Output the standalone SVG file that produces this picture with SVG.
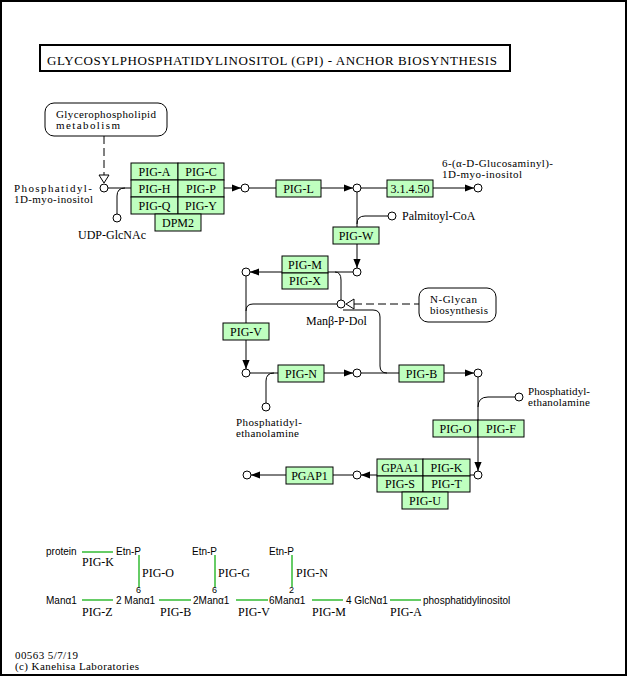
<svg xmlns="http://www.w3.org/2000/svg" width="628" height="677" viewBox="0 0 628 677">
<defs>
<style>
.t{font-family:"Liberation Serif","Times New Roman",serif;font-size:12px;fill:#000}
.m{font-family:"Liberation Serif","Times New Roman",serif;font-size:11px;fill:#000}
.c{text-anchor:middle}
.s{font-family:"Liberation Sans",Arial,sans-serif;font-size:10px;fill:#000}
.d{font-family:"Liberation Sans",Arial,sans-serif;font-size:9px;fill:#000}
.box{fill:#bfffbf;stroke:#000;stroke-width:1}
.cpd{fill:#fff;stroke:#000;stroke-width:1}
.ln{fill:none;stroke:#000;stroke-width:1}
.ds{fill:none;stroke:#000;stroke-width:1;stroke-dasharray:8,4}
.map{fill:#fff;stroke:#000;stroke-width:1}
.g{stroke:#66cc66;stroke-width:2;fill:none}
</style>
<marker id="ar" viewBox="0 0 10 8" refX="10" refY="4" markerWidth="9" markerHeight="8" markerUnits="userSpaceOnUse" orient="auto">
<path d="M0,0 L10,4 L0,8 z" fill="#000"/>
</marker>
</defs>
<rect x="1" y="1" width="625" height="674" fill="#fff" stroke="#000" stroke-width="2"/>

<g id="title">
<rect x="40" y="45" width="470" height="26" fill="#fff" stroke="#000" stroke-width="2"/>
<text class="t" x="47" y="65" style="font-size:13px" textLength="450">GLYCOSYLPHOSPHATIDYLINOSITOL (GPI) - ANCHOR BIOSYNTHESIS</text>
</g>

<g id="connectors">
<path class="ln" d="M108,188 H131"/>
<path class="ln" d="M117,214 V196 Q117,188 125,188"/>
<path class="ln" d="M224,188 H241" marker-end="url(#ar)"/>
<path class="ln" d="M249,188 H276"/>
<path class="ln" d="M321,188 H353" marker-end="url(#ar)"/>
<path class="ln" d="M361,188 H387"/>
<path class="ln" d="M433,188 H474" marker-end="url(#ar)"/>
<path class="ln" d="M357,192 V227"/>
<path class="ln" d="M388,216 H365 Q357,216 357,224"/>
<path class="ln" d="M357,244 V268" marker-end="url(#ar)"/>
<path class="ln" d="M353,272 H250" marker-end="url(#ar)"/>
<path class="ln" d="M335,272 Q341,272 341,280 V300"/>
<path class="ln" d="M337,304 H253 Q246,304 246,311"/>
<path class="ln" d="M246,276 V323"/>
<path class="ln" d="M246,340 V369" marker-end="url(#ar)"/>
<path class="ln" d="M343,310 H373 Q380,310 380,317 V366 Q380,373 387,373"/>
<path class="ln" d="M250,373 H278"/>
<path class="ln" d="M266,403 V381 Q266,373 274,373"/>
<path class="ln" d="M324,373 H353" marker-end="url(#ar)"/>
<path class="ln" d="M361,373 H399"/>
<path class="ln" d="M444,373 H474" marker-end="url(#ar)"/>
<path class="ln" d="M478,377 V471" marker-end="url(#ar)"/>
<path class="ln" d="M515,397 H488 Q478,397 478,407"/>
<path class="ln" d="M474,475 H361" marker-end="url(#ar)"/>
<path class="ln" d="M353,475 H333"/>
<path class="ln" d="M286,475 H251" marker-end="url(#ar)"/>
<path class="ds" d="M104,136 V175"/>
<path d="M99,175 L109,175 L104,183 z" fill="#fff" stroke="#000" stroke-width="1"/>
<path class="ds" d="M354,304 H419"/>
<path d="M354,299 L354,309 L346,304 z" fill="#fff" stroke="#000" stroke-width="1"/>
</g>

<g id="map-glycerophospholipid">
<rect class="map" x="45" y="103" width="122" height="33" rx="9"/>
<text class="m" x="56" y="118" textLength="100">Glycerophospholipid</text>
<text class="m" x="56" y="129" textLength="64">metabolism</text>
</g>
<g id="map-nglycan">
<rect class="map" x="419" y="288" width="77" height="34" rx="9"/>
<text class="m" x="430" y="303" textLength="47">N-Glycan</text>
<text class="m" x="430" y="314" textLength="58">biosynthesis</text>
</g>

<g id="cpd-pi">
<circle class="cpd" cx="104" cy="188" r="4"/>
<text class="m" x="14" y="192" textLength="78">Phosphatidyl-</text>
<text class="m" x="14" y="203" textLength="79">1D-myo-inositol</text>
</g>
<g id="cpd-udp">
<circle class="cpd" cx="117" cy="218" r="4"/>
<text class="t" x="78" y="239">UDP-GlcNAc</text>
</g>
<g id="cpd-glcnac-pi">
<circle class="cpd" cx="245" cy="188" r="4"/>
</g>
<g id="cpd-glcn-pi">
<circle class="cpd" cx="357" cy="188" r="4"/>
</g>
<g id="cpd-glcn-inositol">
<circle class="cpd" cx="478" cy="188" r="4"/>
<text class="m" x="442" y="167" textLength="111">6-(α-D-Glucosaminyl)-</text>
<text class="m" x="442" y="178" textLength="80">1D-myo-inositol</text>
</g>
<g id="cpd-palmitoyl">
<circle class="cpd" cx="392" cy="216" r="4"/>
<text class="t" x="402" y="220">Palmitoyl-CoA</text>
</g>
<g id="cpd-c1"><circle class="cpd" cx="357" cy="272" r="4"/></g>
<g id="cpd-c2"><circle class="cpd" cx="246" cy="272" r="4"/></g>
<g id="cpd-manpdol">
<circle class="cpd" cx="341" cy="304" r="4"/>
<text class="t" x="306" y="325">Manβ-P-Dol</text>
</g>
<g id="cpd-c3"><circle class="cpd" cx="246" cy="373" r="4"/></g>
<g id="cpd-pe1">
<circle class="cpd" cx="266" cy="407" r="4"/>
<text class="m" x="236" y="426" textLength="66">Phosphatidyl-</text>
<text class="m" x="236" y="437" textLength="63">ethanolamine</text>
</g>
<g id="cpd-c4"><circle class="cpd" cx="357" cy="373" r="4"/></g>
<g id="cpd-c5"><circle class="cpd" cx="478" cy="373" r="4"/></g>
<g id="cpd-pe2">
<circle class="cpd" cx="519" cy="397" r="4"/>
<text class="m" x="528" y="395" textLength="62">Phosphatidyl-</text>
<text class="m" x="528" y="406" textLength="62">ethanolamine</text>
</g>
<g id="cpd-c6"><circle class="cpd" cx="478" cy="475" r="4"/></g>
<g id="cpd-c7"><circle class="cpd" cx="357" cy="475" r="4"/></g>
<g id="cpd-c8"><circle class="cpd" cx="247" cy="475" r="4"/></g>

<g id="enz-gpi-gnt">
<rect class="box" x="131" y="163" width="47" height="17"/><text class="t c" x="154.5" y="176">PIG-A</text>
<rect class="box" x="178" y="163" width="46" height="17"/><text class="t c" x="201" y="176">PIG-C</text>
<rect class="box" x="131" y="180" width="47" height="17"/><text class="t c" x="154.5" y="193">PIG-H</text>
<rect class="box" x="178" y="180" width="46" height="17"/><text class="t c" x="201" y="193">PIG-P</text>
<rect class="box" x="131" y="197" width="47" height="17"/><text class="t c" x="154.5" y="210">PIG-Q</text>
<rect class="box" x="178" y="197" width="46" height="17"/><text class="t c" x="201" y="210">PIG-Y</text>
<rect class="box" x="155" y="214" width="46" height="17"/><text class="t c" x="178" y="227">DPM2</text>
</g>
<g id="enz-pigl">
<rect class="box" x="276" y="180" width="45" height="17"/><text class="t c" x="298.5" y="193">PIG-L</text>
</g>
<g id="enz-31450">
<rect class="box" x="387" y="180" width="46" height="17"/><text class="t c" x="410" y="193">3.1.4.50</text>
</g>
<g id="enz-pigw">
<rect class="box" x="333" y="227" width="46" height="17"/><text class="t c" x="356" y="240">PIG-W</text>
</g>
<g id="enz-pigm">
<rect class="box" x="282" y="256" width="46" height="17"/><text class="t c" x="305" y="269">PIG-M</text>
<rect class="box" x="282" y="273" width="46" height="16"/><text class="t c" x="305" y="285">PIG-X</text>
</g>
<g id="enz-pigv">
<rect class="box" x="223" y="323" width="46" height="17"/><text class="t c" x="246" y="336">PIG-V</text>
</g>
<g id="enz-pign">
<rect class="box" x="278" y="365" width="46" height="17"/><text class="t c" x="301" y="378">PIG-N</text>
</g>
<g id="enz-pigb">
<rect class="box" x="399" y="365" width="45" height="17"/><text class="t c" x="421.5" y="378">PIG-B</text>
</g>
<g id="enz-pigo">
<rect class="box" x="433" y="420" width="45" height="17"/><text class="t c" x="455.5" y="433">PIG-O</text>
<rect class="box" x="478" y="420" width="46" height="17"/><text class="t c" x="501" y="433">PIG-F</text>
</g>
<g id="enz-transamidase">
<rect class="box" x="377" y="459" width="46" height="17"/><text class="t c" x="400" y="472">GPAA1</text>
<rect class="box" x="423" y="459" width="47" height="17"/><text class="t c" x="446.5" y="472">PIG-K</text>
<rect class="box" x="377" y="476" width="46" height="16"/><text class="t c" x="400" y="488">PIG-S</text>
<rect class="box" x="423" y="476" width="47" height="16"/><text class="t c" x="446.5" y="488">PIG-T</text>
<rect class="box" x="402" y="492" width="46" height="17"/><text class="t c" x="425" y="505">PIG-U</text>
</g>
<g id="enz-pgap1">
<rect class="box" x="286" y="467" width="47" height="17"/><text class="t c" x="309.5" y="480">PGAP1</text>
</g>

<g id="structure">
<text class="s" x="46" y="555">protein</text>
<path class="g" d="M82,552 H113"/>
<text class="s" x="116" y="555">Etn-P</text>
<text class="t" x="82" y="566">PIG-K</text>
<path class="g" d="M139,555 V587"/>
<text class="t" x="142" y="577">PIG-O</text>
<text class="d" x="136" y="593">6</text>

<text class="s" x="192" y="555">Etn-P</text>
<path class="g" d="M215,555 V587"/>
<text class="t" x="218" y="577">PIG-G</text>
<text class="d" x="212" y="593">6</text>

<text class="s" x="269" y="555">Etn-P</text>
<path class="g" d="M292,555 V587"/>
<text class="t" x="296" y="577">PIG-N</text>
<text class="d" x="289" y="593">2</text>

<text class="s" x="46" y="604">Manα1</text>
<path class="g" d="M82,600 H113"/>
<text class="t" x="82" y="616">PIG-Z</text>
<text class="s" x="116" y="604">2 Manα1</text>
<path class="g" d="M159,600 H191"/>
<text class="t" x="160" y="616">PIG-B</text>
<text class="s" x="193" y="604">2Manα1</text>
<path class="g" d="M236,600 H268"/>
<text class="t" x="238" y="616">PIG-V</text>
<text class="s" x="269" y="604">6Manα1</text>
<path class="g" d="M312,600 H343"/>
<text class="t" x="312" y="616">PIG-M</text>
<text class="s" x="346" y="604">4 GlcNα1</text>
<path class="g" d="M390,600 H421"/>
<text class="t" x="390" y="616">PIG-A</text>
<text class="s" x="423" y="604">phosphatidylinositol</text>
</g>

<g id="footer">
<text class="m" x="15" y="659" textLength="63">00563 5/7/19</text>
<text class="m" x="15" y="670" textLength="124">(c) Kanehisa Laboratories</text>
</g>
</svg>
